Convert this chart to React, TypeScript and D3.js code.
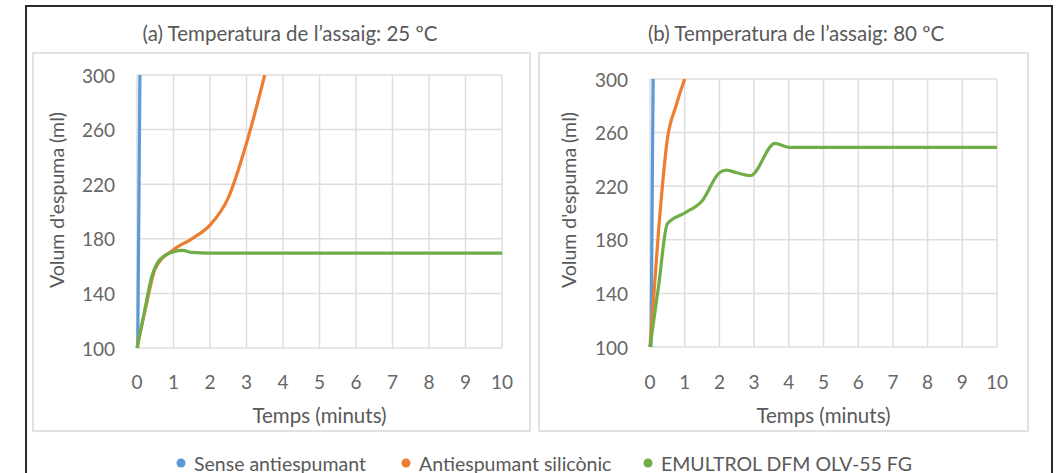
import React from "react";
import * as d3 from "d3";

// axis ticks
const xTicks = [0, 1, 2, 3, 4, 5, 6, 7, 8, 9, 10];
const yTicks = [100, 140, 180, 220, 260, 300];

const seriesNames = ["Sense antiespumant", "Antiespumant silicònic", "EMULTROL DFM OLV-55 FG"];
const seriesColors = ["#5B9BD5", "#ED7D31", "#70AD47"];

// (a) 25 ºC
const blueA_t = [0.02, 0.08];
const blueA_v = [100, 300];
const orangeA_t = [0, 0.25, 0.5, 1, 1.5, 2, 2.5, 3, 3.5];
const orangeA_v = [100, 131, 158, 172, 180, 190, 210, 250, 300];
const greenA_t = [0, 0.2, 0.4, 0.55, 0.75, 1, 1.25, 1.5, 2, 3, 4, 5, 6, 7, 8, 9, 10];
const greenA_v = [100, 126, 152, 162, 167.5, 170.5, 171.5, 170, 169.5, 169.5, 169.5, 169.5, 169.5, 169.5, 169.5, 169.5, 169.5];

// (b) 80 ºC
const blueB_t = [0.03, 0.09];
const blueB_v = [100, 300];
const orangeB_t = [0, 0.25, 0.5, 0.75, 1];
const orangeB_v = [100, 188, 255, 280, 300];
const greenB_t = [0, 0.25, 0.5, 1, 1.5, 2, 2.2, 2.5, 2.9, 3.6, 4, 5, 6, 7, 8, 9, 10];
const greenB_v = [100, 146, 192, 200, 209, 230, 232, 230, 228, 252, 249, 249, 249, 249, 249, 249, 249];

const FONT = "Lato, 'Open Sans', sans-serif";
const TEXT = "#595959";
const TICK = "#666";

const zip = (t: number[], v: number[]) => t.map((x, i) => [x, v[i]] as [number, number]);

type PanelProps = {
  id: string;
  title: string;
  titleX: number;
  box: { x: number; y: number; w: number; h: number };
  plot: { x0: number; x1: number; y0: number; y1: number };
  yTitleX: number;
  series: [number, number][][];
};

function Panel({ id, title, titleX, box, plot, yTitleX, series }: PanelProps) {
  const x = d3.scaleLinear().domain([0, 10]).range([plot.x0, plot.x1]);
  const y = d3.scaleLinear().domain([100, 300]).range([plot.y0, plot.y1]);
  const line = d3
    .line<[number, number]>()
    .x((d) => x(d[0]))
    .y((d) => y(d[1]))
    .curve(d3.curveMonotoneX);

  return (
    <g>
      <rect x={box.x} y={box.y} width={box.w} height={box.h} fill="#fff" stroke="#d9d9d9" strokeWidth={1.5} />
      <text x={titleX} y={33} textAnchor="middle" dominantBaseline="central" fontSize={20.5} fill={TEXT}>
        {title}
      </text>
      <clipPath id={id}>
        <rect x={plot.x0 - 3} y={plot.y1} width={plot.x1 - plot.x0 + 6} height={plot.y0 - plot.y1 + 2} />
      </clipPath>
      {xTicks.map((t) => (
        <line key={"gx" + t} x1={x(t)} x2={x(t)} y1={y(100)} y2={y(300)} stroke="#dedede" strokeWidth={1.5} />
      ))}
      {yTicks.map((t) => (
        <line key={"gy" + t} x1={x(0)} x2={x(10)} y1={y(t)} y2={y(t)} stroke="#dedede" strokeWidth={1.5} />
      ))}
      {yTicks.map((t) => (
        <text key={"ty" + t} x={plot.x0 - 22} y={y(t)} textAnchor="end" dominantBaseline="central" fontSize={19} fill={TICK}>
          {t}
        </text>
      ))}
      {xTicks.map((t) => (
        <text key={"tx" + t} x={x(t)} y={381} textAnchor="middle" dominantBaseline="central" fontSize={19} fill={TICK}>
          {t}
        </text>
      ))}
      <text x={(plot.x0 + plot.x1) / 2} y={415} textAnchor="middle" dominantBaseline="central" fontSize={20.5} fill={TEXT}>
        Temps (minuts)
      </text>
      <text
        transform={`translate(${yTitleX},200) rotate(-90)`}
        textAnchor="middle"
        dominantBaseline="central"
        fontSize={19.5}
        fill={TEXT}
      >
        Volum d'espuma (ml)
      </text>
      <g clipPath={`url(#${id})`}>
        {series.map((s, i) => (
          <path key={i} d={line(s) ?? ""} fill="none" stroke={seriesColors[i]} strokeWidth={3.2} />
        ))}
      </g>
    </g>
  );
}

export default function App() {
  const legendX = [181, 406, 648];
  return (
    <svg width={1061} height={473} style={{ position: "absolute", left: 0, top: 0, fontFamily: FONT }}>
      <rect x={0} y={0} width={1061} height={473} fill="#fff" />
      <rect x={26} y={6} width={1026} height={480} fill="#fff" stroke="#2a2a2a" strokeWidth={2} />
      <Panel
        id="clipA"
        title="(a) Temperatura de l’assaig: 25 ºC"
        titleX={290}
        box={{ x: 33, y: 53, w: 497, h: 378 }}
        plot={{ x0: 137, x1: 502, y0: 348, y1: 75 }}
        yTitleX={56}
        series={[zip(blueA_t, blueA_v), zip(orangeA_t, orangeA_v), zip(greenA_t, greenA_v)]}
      />
      <Panel
        id="clipB"
        title="(b) Temperatura de l’assaig: 80 ºC"
        titleX={796}
        box={{ x: 539, y: 53, w: 489, h: 378 }}
        plot={{ x0: 650, x1: 997, y0: 347, y1: 79 }}
        yTitleX={568}
        series={[zip(blueB_t, blueB_v), zip(orangeB_t, orangeB_v), zip(greenB_t, greenB_v)]}
      />
      {seriesNames.map((n, i) => (
        <g key={n}>
          <circle cx={legendX[i]} cy={463} r={4.5} fill={seriesColors[i]} />
          <text x={legendX[i] + 13} y={463} dominantBaseline="central" fontSize={19.5} fill={TEXT}>
            {n}
          </text>
        </g>
      ))}
    </svg>
  );
}
